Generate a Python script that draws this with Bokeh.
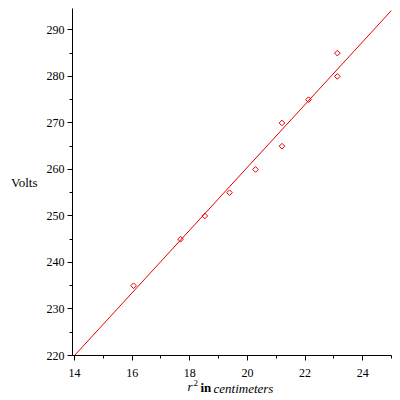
import numpy as np
from bokeh.plotting import figure
from bokeh.models import SingleIntervalTicker, Title, Range1d
from bokeh.embed import file_html
from bokeh.resources import INLINE

# data
r_squared = [16.05, 17.68, 18.52, 19.38, 20.28, 21.2, 21.2, 22.12, 23.12, 23.12]
volts = [235, 245, 250, 255, 260, 265, 270, 275, 280, 285]
fit_x = [14.0, 25.0]
fit_slope = 6.745
fit_intercept = 220.0 - 6.745 * 14.0
fit_y = [fit_intercept + fit_slope * x for x in fit_x]

W, H = 398, 398
p = figure(width=W, height=H, output_backend="svg", toolbar_location=None,
           x_range=Range1d(13.93, 25.0), y_range=Range1d(220.0, 294.6),
           min_border_left=72, min_border_right=7, min_border_top=8,
           min_border_bottom=43)
p.outline_line_color = None
p.grid.visible = False
p.background_fill_color = "white"

p.line(fit_x, fit_y, line_color="#e60000", line_width=1)
p.scatter(r_squared, volts, marker="square", angle=np.pi / 4, size=4,
          fill_color=None, line_color="#e60000", line_width=1)

font = "Liberation Serif"
for ax in (p.xaxis[0], p.yaxis[0]):
    ax.axis_line_color = "black"
    ax.major_tick_line_color = "black"
    ax.minor_tick_line_color = "black"
    ax.major_tick_out = 5
    ax.major_tick_in = 0
    ax.minor_tick_out = 3
    ax.minor_tick_in = 0
    ax.major_label_text_font = font
    ax.major_label_text_font_size = "12px"
    ax.major_label_text_color = "black"

p.xaxis.major_label_standoff = 8
p.yaxis.major_label_standoff = 3

p.xaxis.axis_label = None
p.yaxis.axis_label = "Volts"
p.yaxis.axis_label_orientation = "horizontal"
p.yaxis.axis_label_text_font = font
p.yaxis.axis_label_text_font_style = "normal"
p.yaxis.axis_label_text_font_size = "13px"
p.yaxis.axis_label_text_color = "black"
p.yaxis.axis_label_standoff = 6

p.xaxis.ticker = SingleIntervalTicker(interval=2, num_minor_ticks=2)
p.yaxis.ticker = SingleIntervalTicker(interval=10, num_minor_ticks=2)

# x-axis label "r^2 in centimeters" built from overlapping titles in the below panel
def piece(text, offset, style, size, standoff):
    return Title(text=text, align="left", offset=offset, vertical_align="middle",
                 standoff=standoff, text_font=font, text_font_style=style,
                 text_font_size=size, text_color="black")

p.add_layout(piece("2", 121, "normal", "9px", -2.3), "below")
p.add_layout(piece("r", 115, "italic", "13px", -16.5), "below")
p.add_layout(piece("in", 128, "bold", "13px", -16.5), "below")
p.add_layout(piece("centimeters", 141, "italic", "13px", -16.5), "below")

open("out.html", "w").write(file_html(p, INLINE))
